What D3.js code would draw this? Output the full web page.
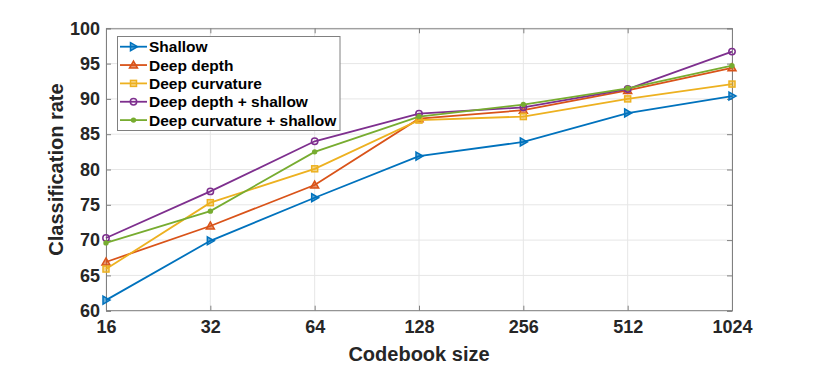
<!DOCTYPE html>
<html><head><meta charset="utf-8">
<script src="https://cdn.jsdelivr.net/npm/d3@7"></script>
<style>body{margin:0;background:#fff}svg{display:block;font-family:"Liberation Sans",Arial,Helvetica,sans-serif}</style>
</head><body><svg id="c" width="822" height="379"></svg>
<script>
const codebook = [16, 32, 64, 128, 256, 512, 1024];
const yTicks = [60, 65, 70, 75, 80, 85, 90, 95, 100];
const seriesNames = ["Shallow", "Deep depth", "Deep curvature", "Deep depth + shallow", "Deep curvature + shallow"];
const shallow = [61.5, 69.9, 76.0, 81.9, 83.9, 88.0, 90.4];
const deepDepth = [66.9, 72.0, 77.8, 87.2, 88.4, 91.2, 94.4];
const deepCurvature = [65.9, 75.3, 80.1, 87.0, 87.5, 90.0, 92.1];
const deepDepthShallow = [70.3, 76.9, 84.0, 87.9, 88.8, 91.4, 96.7];
const deepCurvatureShallow = [69.6, 74.1, 82.5, 87.5, 89.2, 91.5, 94.7];
const colors = ["#0072BD", "#D95319", "#EDB120", "#7E2F8E", "#77AC30"];
const markers = ["triR", "triU", "square", "circle", "dot"];
const allSeries = [shallow, deepDepth, deepCurvature, deepDepthShallow, deepCurvatureShallow];

const svg = d3.select("#c");
const L = 106, R = 732, T = 28.3, B = 310.7;
const x = d3.scaleLog().base(2).domain([16, 1024]).range([L, R]);
const y = d3.scaleLinear().domain([60, 100]).range([B, T]);

// grid
const grid = svg.append("g").attr("stroke", "#e6e6e6").attr("stroke-width", 1);
codebook.forEach(v => grid.append("line").attr("x1", x(v)).attr("x2", x(v)).attr("y1", T).attr("y2", B));
yTicks.forEach(v => grid.append("line").attr("x1", L).attr("x2", R).attr("y1", y(v)).attr("y2", y(v)));

// axes
const axCol = "#808080";
const xAx = svg.append("g").attr("transform", `translate(0,${B})`)
  .call(d3.axisBottom(x).tickValues(codebook).tickFormat(d3.format("d")).tickSize(-5).tickPadding(10));
const yAx = svg.append("g").attr("transform", `translate(${L},0)`)
  .call(d3.axisLeft(y).tickValues(yTicks).tickSize(-5).tickPadding(6));
svg.append("g").attr("transform", `translate(0,${T})`)
  .call(d3.axisTop(x).tickValues(codebook).tickFormat("").tickSize(-5));
svg.append("g").attr("transform", `translate(${R},0)`)
  .call(d3.axisRight(y).tickValues(yTicks).tickFormat("").tickSize(-5));
svg.selectAll(".domain").attr("stroke", axCol);
svg.selectAll(".tick line").attr("stroke", axCol);
svg.selectAll(".tick text").attr("fill", "#262626").style("font-size", "18px").style("font-weight", "bold")
  .style("font-family", '"Liberation Sans",Arial,sans-serif');
xAx.selectAll(".domain").attr("d", `M${L},0H${R}`);

// axis labels
svg.append("text").attr("x", (L + R) / 2).attr("y", 361).attr("text-anchor", "middle")
  .attr("fill", "#262626").style("font-size", "20px").style("font-weight", "bold").text("Codebook size");
svg.append("text").attr("transform", `translate(63,${(T + B) / 2}) rotate(-90)`).attr("text-anchor", "middle")
  .attr("fill", "#262626").style("font-size", "20px").style("font-weight", "bold").text("Classification rate");

function drawMarker(g, type, cx, cy, col) {
  if (type === "triR") {
    g.append("path").attr("d", `M${cx - 3},${cy - 4}L${cx + 4},${cy}L${cx - 3},${cy + 4}Z`)
      .attr("fill", col).attr("fill-opacity", 0.6).attr("stroke", col).attr("stroke-width", 1.5);
  } else if (type === "triU") {
    g.append("path").attr("d", `M${cx},${cy - 4}L${cx + 4},${cy + 3}L${cx - 4},${cy + 3}Z`)
      .attr("fill", col).attr("fill-opacity", 0.6).attr("stroke", col).attr("stroke-width", 1.5);
  } else if (type === "square") {
    g.append("rect").attr("x", cx - 3).attr("y", cy - 3).attr("width", 6).attr("height", 6)
      .attr("fill", col).attr("fill-opacity", 0.5).attr("stroke", col).attr("stroke-width", 1.5);
  } else if (type === "circle") {
    g.append("circle").attr("cx", cx).attr("cy", cy).attr("r", 3.2)
      .attr("fill", "none").attr("stroke", col).attr("stroke-width", 1.5);
  } else {
    g.append("circle").attr("cx", cx).attr("cy", cy).attr("r", 2.7).attr("fill", col);
  }
}

const line = d3.line().x((d, i) => x(codebook[i])).y(d => y(d));
allSeries.forEach((s, k) => {
  const g = svg.append("g");
  g.append("path").attr("d", line(s)).attr("fill", "none").attr("stroke", colors[k]).attr("stroke-width", 1.8);
  s.forEach((v, i) => drawMarker(g, markers[k], x(codebook[i]), y(v), colors[k]));
});

// legend
const lg = svg.append("g");
lg.append("rect").attr("x", 117.5).attr("y", 36.5).attr("width", 222.5).attr("height", 94)
  .attr("fill", "#fff").attr("stroke", axCol).attr("stroke-width", 1);
seriesNames.forEach((n, k) => {
  const yy = 46.7 + k * 18.35;
  lg.append("line").attr("x1", 120).attr("x2", 147).attr("y1", yy).attr("y2", yy)
    .attr("stroke", colors[k]).attr("stroke-width", 1.8);
  drawMarker(lg, markers[k], 133.5, yy, colors[k]);
  lg.append("text").attr("x", 149).attr("y", yy).attr("dy", "0.36em").attr("fill", "#000")
    .style("font-size", "15.5px").style("font-weight", "bold").text(n);
});
</script></body></html>
